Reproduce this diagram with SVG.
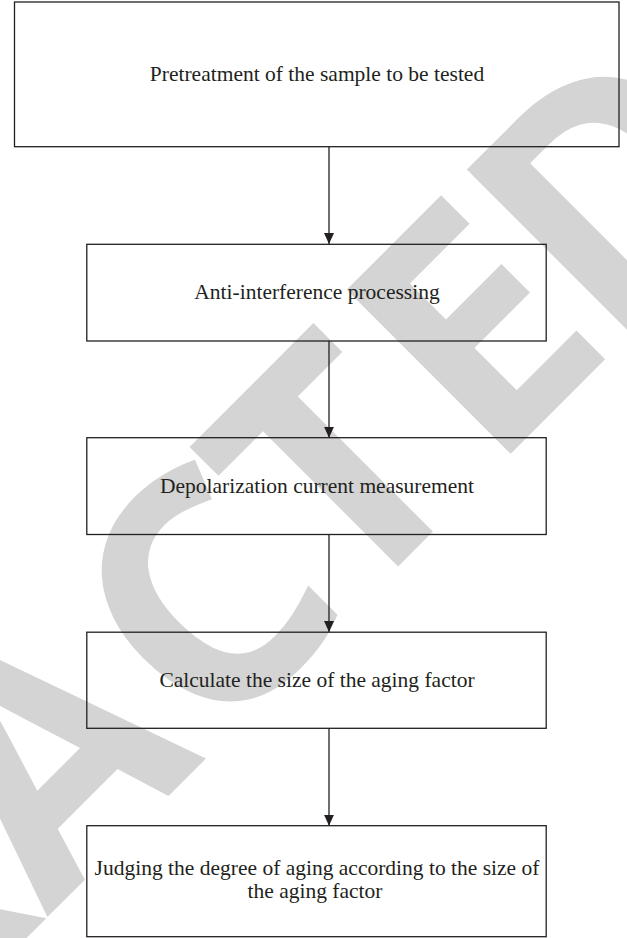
<svg xmlns="http://www.w3.org/2000/svg" width="627" height="938" viewBox="0 0 627 938">
  <style>
    .box { fill: none; stroke: #231f20; stroke-width: 1.3; }
    .lbl { font-family: "Liberation Serif", "Times New Roman", serif; font-size: 21.5px; fill: #231f20; text-anchor: middle; }
    .edge { stroke: #231f20; stroke-width: 1.3; fill: none; marker-end: url(#arrow); }
    .wm { font-family: "Open Sans", "Liberation Sans", sans-serif; font-weight: 700; font-size: 325px; fill: #d4d4d4; }
  </style>
  <defs>
    <marker id="arrow" viewBox="0 0 11 10" markerWidth="11" markerHeight="10" refX="11" refY="5" orient="auto" markerUnits="userSpaceOnUse">
      <path d="M0,0 L11,5 L0,10 Z" fill="#231f20"/>
    </marker>
  </defs>
  <rect width="627" height="938" fill="#ffffff"/>
  <g id="watermark">
    <text class="wm" transform="rotate(-45)" x="-1413 -1197 -1016 -831 -615 -383 -188.5 11 181" y="682">RETRACTED</text>
  </g>
  <g id="connectors">
    <line class="edge" x1="329" y1="146.7" x2="329" y2="244"/>
    <line class="edge" x1="329" y1="341" x2="329" y2="437.7"/>
    <line class="edge" x1="329" y1="534.5" x2="329" y2="632"/>
    <line class="edge" x1="329" y1="728.3" x2="329" y2="825.7"/>
  </g>
  <g id="n1">
    <rect class="box" x="14.5" y="2" width="604.5" height="144.7"/>
    <text class="lbl" x="317" y="81">Pretreatment of the sample to be tested</text>
  </g>
  <g id="n2">
    <rect class="box" x="86.8" y="244.3" width="459.4" height="96.7"/>
    <text class="lbl" x="317" y="299">Anti-interference processing</text>
  </g>
  <g id="n3">
    <rect class="box" x="86.8" y="437.7" width="459.4" height="96.8"/>
    <text class="lbl" x="317" y="492.5">Depolarization current measurement</text>
  </g>
  <g id="n4">
    <rect class="box" x="86.8" y="632.2" width="459.4" height="96.1"/>
    <text class="lbl" x="317" y="687">Calculate the size of the aging factor</text>
  </g>
  <g id="n5">
    <rect class="box" x="86.8" y="825.7" width="459.4" height="111"/>
    <text class="lbl" x="317" y="875">Judging the degree of aging according to the size of</text>
    <text class="lbl" x="315" y="898.3">the aging factor</text>
  </g>
</svg>
